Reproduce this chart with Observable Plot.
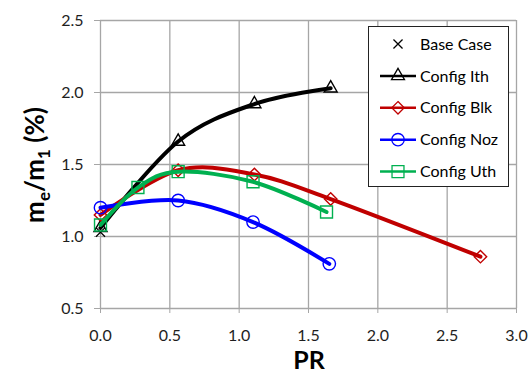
<!DOCTYPE html>
<html><head><meta charset="utf-8">
<script src="https://cdn.jsdelivr.net/npm/d3@7"></script>
<script src="https://cdn.jsdelivr.net/npm/@observablehq/plot@0.6"></script>
<style>body{margin:0;background:#fff}#chart{width:528px;height:374px}</style>
</head><body><div id="chart"></div>
<script>
// ---- data ----
const seriesNames = ["Base Case", "Config Ith", "Config Blk", "Config Noz", "Config Uth"];
const baseX = [0];
const baseY = [1.03];
const ithX = [0, 0.56, 1.11, 1.66];
const ithY = [1.06, 1.66, 1.92, 2.03];
const blkX = [0, 0.56, 1.11, 1.66, 2.74];
const blkY = [1.15, 1.46, 1.43, 1.26, 0.86];
const nozX = [0, 0.56, 1.10, 1.65];
const nozY = [1.20, 1.25, 1.10, 0.81];
const uthX = [0, 0.27, 0.56, 1.10, 1.63];
const uthY = [1.08, 1.34, 1.45, 1.38, 1.17];
const xTicks = [0, 0.5, 1.0, 1.5, 2.0, 2.5, 3.0];
const yTicks = [0.5, 1.0, 1.5, 2.0, 2.5];
const xLabel = "PR";

const colors = {"Base Case": "#000000", "Config Ith": "#000000", "Config Blk": "#C00000", "Config Noz": "#0000FF", "Config Uth": "#00B050"};
const symbols = {"Base Case": "times", "Config Ith": "triangle2", "Config Blk": "diamond2", "Config Noz": "circle", "Config Uth": "square2"};
const radii = {"Base Case": 4.2, "Config Ith": 6.2, "Config Blk": 5.6, "Config Noz": 6.2, "Config Uth": 7.6};

const toRows = (xs, ys) => xs.map((x, i) => ({x, y: ys[i]}));
const series = [
  {name: "Config Ith", rows: toRows(ithX, ithY)},
  {name: "Config Blk", rows: toRows(blkX, blkY)},
  {name: "Config Noz", rows: toRows(nozX, nozY)},
  {name: "Config Uth", rows: toRows(uthX, uthY)}
];
const baseRows = toRows(baseX, baseY);

const marks = [
  Plot.gridX(xTicks, {stroke: "#a6a6a6", strokeOpacity: 1, strokeWidth: 1.3}),
  Plot.gridY(yTicks, {stroke: "#a6a6a6", strokeOpacity: 1, strokeWidth: 1.3}),
  Plot.axisX({ticks: xTicks, tickFormat: d3.format(".1f"), tickSize: 5, tickPadding: 16, stroke: "#a6a6a6", fill: "#1e1e1e", label: null}),
  Plot.axisY({ticks: yTicks, tickFormat: d3.format(".1f"), tickSize: 6, tickPadding: 11, stroke: "#a6a6a6", fill: "#1e1e1e", label: null}),
  Plot.dot(baseRows, {x: "x", y: "y", symbol: () => symbols["Base Case"], r: radii["Base Case"], stroke: colors["Base Case"], strokeWidth: 1.3})
];
for (const s of series) {
  marks.push(Plot.line(s.rows, {x: "x", y: "y", curve: "cardinal", stroke: colors[s.name], strokeWidth: 4}));
  marks.push(Plot.dot(s.rows, {x: "x", y: "y", symbol: () => symbols[s.name], r: radii[s.name], stroke: colors[s.name], fill: "none", strokeWidth: 1.4}));
}

const plot = Plot.plot({
  width: 528, height: 374,
  marginLeft: 100, marginRight: 12, marginTop: 20, marginBottom: 66,
  style: {fontFamily: "Lato", fontSize: "16px", background: "#fff", overflow: "visible"},
  x: {domain: [0, 3]},
  y: {domain: [0.5, 2.5]},
  symbol: {type: "identity"},
  marks
});

const svg = d3.select(plot);
// y axis title with subscripts
const yt = svg.append("text")
  .attr("transform", "translate(44,165) rotate(-90)")
  .attr("text-anchor", "middle")
  .style("font", "bold 26px Lato").attr("fill", "#000");
yt.append("tspan").text("m");
yt.append("tspan").attr("dy", 6).style("font-size", "17px").text("e");
yt.append("tspan").attr("dy", -6).text("/m");
yt.append("tspan").attr("dy", 6).style("font-size", "17px").text("1");
yt.append("tspan").attr("dy", -6).text(" (%)");
// x axis title
svg.append("text").attr("x", 309).attr("y", 368.5).attr("text-anchor", "middle")
  .style("font", "bold 25px Lato").attr("fill", "#000").text(xLabel);

// legend
const lg = svg.append("g");
lg.append("rect").attr("x", 368.5).attr("y", 26.5).attr("width", 140).attr("height", 160)
  .attr("fill", "#fff").attr("stroke", "#222").attr("stroke-width", 1);
seriesNames.forEach((name, i) => {
  const cy = 44 + i * 31.9;
  if (name !== "Base Case") {
    lg.append("line").attr("x1", 380).attr("x2", 416).attr("y1", cy).attr("y2", cy)
      .attr("stroke", colors[name]).attr("stroke-width", 2.5);
  }
  const sym = {times: d3.symbolTimes, triangle2: d3.symbolTriangle2, diamond2: d3.symbolDiamond2, circle: d3.symbolCircle, square2: d3.symbolSquare2}[symbols[name]];
  lg.append("path").attr("transform", `translate(398,${cy})`)
    .attr("d", d3.symbol(sym, Math.PI * radii[name] * radii[name])())
    .attr("fill", "none").attr("stroke", colors[name]).attr("stroke-width", 1.3);
  lg.append("text").attr("x", 420).attr("y", cy).attr("dy", "0.35em")
    .attr("text-anchor", "start")
    .style("font", "16px Lato").attr("fill", "#000").text(name);
});

document.getElementById("chart").appendChild(plot);
</script>
</body></html>
